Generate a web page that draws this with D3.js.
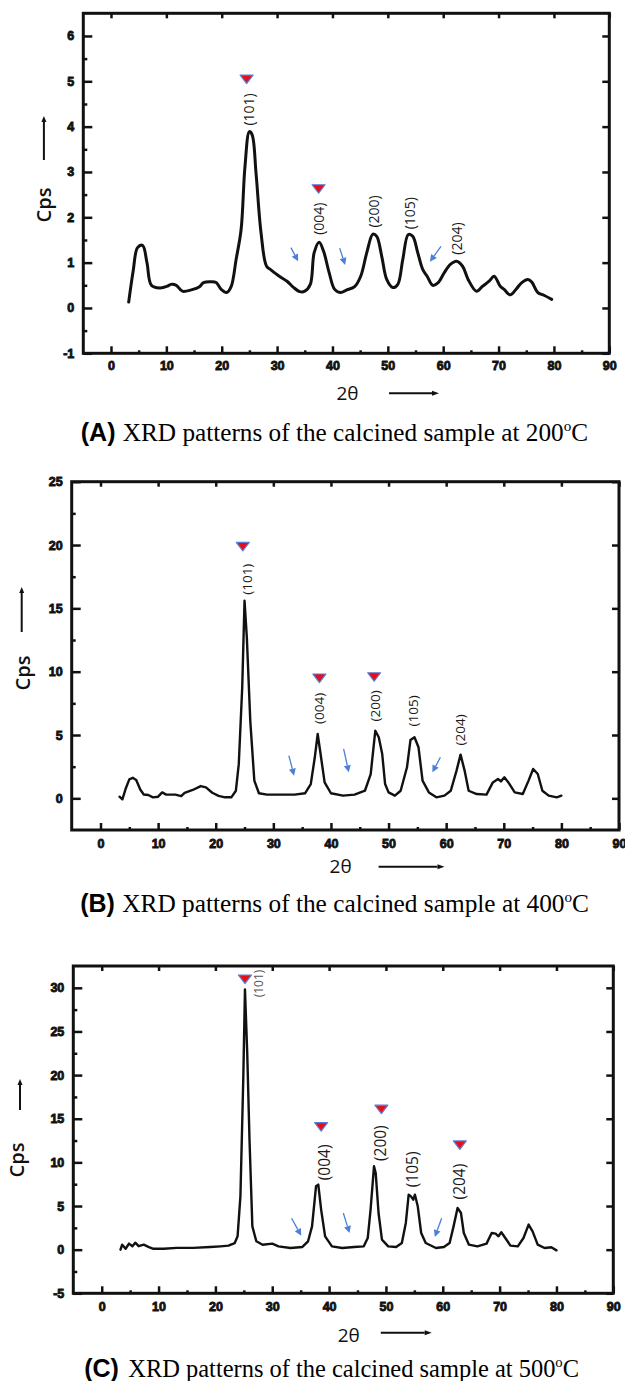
<!DOCTYPE html>
<html><head><meta charset="utf-8">
<script src="https://cdn.jsdelivr.net/npm/d3@7"></script>
<style>body{margin:0;background:#fff} svg{display:block}</style>
</head><body><svg id="chart" width="625" height="1381"></svg>
<script>
// ---------- DATA ----------
const xTicks = [0,10,20,30,40,50,60,70,80,90];
const xMinorTicks = [5,15,25,35,45,55,65,75,85];
const yTicksA = [-1,0,1,2,3,4,5,6];
const yMinorA = [-0.5,0.5,1.5,2.5,3.5,4.5,5.5];
const yTicksB = [0,5,10,15,20,25];
const yMinorB = [2.5,7.5,12.5,17.5,22.5];
const yTicksC = [-5,0,5,10,15,20,25,30];
const yMinorC = [-2.5,2.5,7.5,12.5,17.5,22.5,27.5];
const hkl = ["(101)","(004)","(200)","(105)","(204)"];

// Panel A – 200 °C
const thetaA = [3.2,4.0,4.8,5.7,6.5,7.3,8.8,10.2,10.8,11.8,12.9,14.5,16.0,16.7,18.1,19.0,19.9,20.9,21.7,22.6,23.5,24.2,25.0,25.5,26.2,27.1,28.1,28.9,30.4,31.8,32.9,34.1,35.0,36.0,36.7,37.6,38.4,39.4,40.4,41.5,42.6,44.0,45.1,46.2,47.3,48.0,48.9,49.8,50.9,51.8,52.7,53.7,54.5,55.4,56.3,57.1,58.1,59.1,60.2,61.3,62.4,63.5,64.5,66.0,67.1,68.3,69.2,70.3,71.0,72.1,73.2,74.2,75.3,76.0,77.1,78.2,79.6];
const cpsA = [0.13,0.81,1.33,1.38,1.0,0.5,0.44,0.48,0.52,0.5,0.37,0.4,0.47,0.56,0.58,0.56,0.41,0.34,0.47,1.07,1.73,3.12,3.89,3.82,2.97,1.66,0.92,0.84,0.7,0.59,0.46,0.36,0.37,0.52,1.22,1.45,1.25,0.78,0.41,0.34,0.4,0.47,0.7,1.22,1.63,1.58,1.14,0.63,0.45,0.52,1.07,1.62,1.58,1.22,0.85,0.7,0.5,0.56,0.78,0.96,1.03,0.92,0.63,0.37,0.48,0.59,0.7,0.48,0.41,0.29,0.42,0.56,0.63,0.57,0.34,0.28,0.19];
const markerXA = [24.5,37.5];
const markerYA = [5.05,2.63];
const labelXA = [24.9,37.5,47.5,54.0,62.4];
const labelYA = [4.38,1.97,2.13,2.09,1.53];
const arrowsA = [[32.5,1.33,33.8,1.03],[41.3,1.32,42.3,0.95],[59.6,1.36,57.6,1.02]];

// Panel B – 400 °C
const thetaB = [3.3,3.8,4.4,5.0,5.6,6.2,6.9,7.5,8.3,9.1,10.0,10.7,11.4,13.0,14.0,14.6,16.0,17.4,18.3,19.4,20.5,21.6,22.7,23.5,24.0,24.6,25.0,25.4,26.0,26.7,27.5,28.9,31.0,33.7,35.5,36.5,37.2,37.7,38.2,38.9,40.0,42.1,44.1,45.9,46.9,47.7,48.3,48.9,49.4,50.0,51.1,52.1,53.2,53.8,54.5,55.2,55.9,57.0,58.3,59.7,60.8,61.8,62.5,63.2,63.9,65.3,67.0,68.1,69.0,69.5,70.1,70.8,71.9,73.3,74.3,75.1,75.9,76.7,77.8,79.2,80.0];
const cpsB = [0.13,-0.08,0.8,1.5,1.62,1.45,0.7,0.3,0.26,0.08,0.13,0.47,0.29,0.29,0.18,0.44,0.66,0.97,0.87,0.44,0.2,0.08,0.08,0.6,2.7,8.77,15.6,12.7,6.1,1.4,0.4,0.29,0.29,0.29,0.4,1.13,3.24,5.08,3.5,1.26,0.4,0.21,0.29,0.6,1.92,5.34,4.82,3.5,1.13,0.47,0.21,0.6,2.45,4.6,4.82,4.03,1.4,0.47,0.08,0.21,0.6,2.19,3.45,2.19,0.6,0.34,0.29,1.26,1.53,1.34,1.66,1.26,0.47,0.34,1.4,2.32,1.92,0.6,0.21,0.08,0.21];
const markerXB = [24.7,38.0,47.5];
const markerYB = [19.9,9.5,9.6];
const labelXB = [25.4,37.9,47.6,54.2,62.5];
const labelYB = [17.3,7.1,7.3,6.9,5.4];
const arrowsB = [[32.7,3.37,33.6,1.79],[42.2,3.9,43.1,2.05],[59.0,3.24,57.6,2.05]];

// Panel C – 500 °C
const thetaC = [3.3,3.6,4.2,4.8,5.4,5.9,6.5,7.4,8.3,9.1,10.9,13.2,16.1,19.1,20.9,22.3,23.4,23.9,24.4,24.9,25.2,25.6,26.0,26.5,27.2,28.3,30.0,31.1,33.2,35.3,36.3,37.0,37.7,38.1,38.6,39.3,40.5,42.3,44.4,46.1,46.8,47.3,47.9,48.2,48.7,49.3,50.4,51.8,52.8,53.5,54.0,54.4,54.8,55.1,55.6,56.2,57.0,58.8,60.2,61.2,61.9,62.6,63.2,63.7,64.6,66.1,67.7,68.6,69.3,69.8,70.3,71.0,71.9,73.2,74.2,75.1,75.8,76.7,77.9,79.1,80.0];
const cpsC = [0,0.57,0.1,0.69,0.4,0.8,0.4,0.57,0.3,0.1,0.1,0.2,0.2,0.3,0.38,0.46,0.76,1.53,6.1,19.5,29.8,22.5,12.6,2.67,0.96,0.57,0.69,0.38,0.19,0.31,0.96,2.67,7.26,7.45,4.59,1.53,0.38,0.19,0.31,0.38,1.34,4.59,9.55,8.79,4.2,1.15,0.38,0.31,0.76,3.06,6.3,6.1,5.73,6.3,4.97,1.91,0.76,0.19,0.31,0.76,2.67,4.78,4.2,1.91,0.57,0.38,0.69,1.91,1.83,1.53,1.99,1.34,0.46,0.38,1.34,2.87,2.1,0.57,0.19,0.27,-0.08];
const markerXC = [25.2,38.6,49.2,63.0];
const markerYC = [31.0,14.1,16.1,12.0];
const labelXC = [27.6,39.1,49.0,54.6,63.0];
const labelYC = [30.5,10.0,12.2,9.2,7.8];
const arrowsC = [[33.4,3.6,35.1,1.6],[42.5,4.2,43.6,1.9],[59.8,3.6,58.6,1.45]];

const captionLetters = ["(A)","(B)","(C)"];
const captionTemps = ["200","400","500"];
const captionText = "XRD patterns of the calcined sample at ";

// ---------- DRAWING ----------
const svg = d3.select("#chart");
const xDomain = [-5, 90];
const INK = "#111";
const BLUE = "#4d7fd6";

function drawArrow(g, x1, y1, x2, y2, color, lw, hl, hw) {
  const a = Math.atan2(y2 - y1, x2 - x1);
  const bx = x2 - hl * Math.cos(a), by = y2 - hl * Math.sin(a);
  g.append("line").attr("x1", x1).attr("y1", y1).attr("x2", bx).attr("y2", by)
    .attr("stroke", color).attr("stroke-width", lw);
  const px = -Math.sin(a) * hw / 2, py = Math.cos(a) * hw / 2;
  g.append("path").attr("d", `M${x2},${y2}L${bx + px},${by + py}L${bx - px},${by - py}Z`).attr("fill", color);
}

function styleAxis(sel) {
  sel.select(".domain").remove();
  sel.selectAll(".tick line").attr("stroke", INK).attr("stroke-width", 2.5);
  sel.selectAll(".tick text")
    .attr("fill", INK).attr("stroke", INK).attr("stroke-width", 0.85)
    .style("font-family", "'Liberation Sans', Arial, sans-serif")
    .style("font-weight", "bold").style("font-size", "12.5px");
}

function drawPanel(p) {
  const x = d3.scaleLinear().domain(xDomain).range([p.left, p.right]);
  const y = d3.scaleLinear().domain(p.yDomain).range([p.bottom, p.top]);
  const g = svg.append("g");

  // data curve
  const pts = p.theta.map((t, i) => [t, p.cps[i]]);
  g.append("path").datum(pts)
    .attr("d", d3.line().x(d => x(d[0])).y(d => y(d[1])).curve(p.curve))
    .attr("fill", "none").attr("stroke", INK).attr("stroke-width", p.lw)
    .attr("stroke-linejoin", "round").attr("stroke-linecap", "round");

  // axes (ticks inward)
  styleAxis(g.append("g").attr("transform", `translate(0,${p.bottom})`)
    .call(d3.axisBottom(x).tickValues(xTicks).tickSizeInner(-7).tickSizeOuter(0)
      .tickPadding(p.xPad).tickFormat(d => String(d))));
  styleAxis(g.append("g").attr("transform", `translate(0,${p.bottom})`)
    .call(d3.axisBottom(x).tickValues(xMinorTicks).tickSizeInner(-3).tickSizeOuter(0).tickFormat("")));
  styleAxis(g.append("g").attr("transform", `translate(0,${p.top})`)
    .call(d3.axisTop(x).tickValues(xTicks).tickSizeInner(-5).tickSizeOuter(0).tickFormat("")));
  styleAxis(g.append("g").attr("transform", `translate(${p.left},0)`)
    .call(d3.axisLeft(y).tickValues(p.yTicks).tickSizeInner(-9).tickSizeOuter(0)
      .tickPadding(9).tickFormat(d => String(d))));
  styleAxis(g.append("g").attr("transform", `translate(${p.left},0)`)
    .call(d3.axisLeft(y).tickValues(p.yMinor).tickSizeInner(-4).tickSizeOuter(0).tickFormat("")));
  styleAxis(g.append("g").attr("transform", `translate(${p.right},0)`)
    .call(d3.axisRight(y).tickValues(p.yTicks).tickSizeInner(-7).tickSizeOuter(0).tickFormat("")));

  // frame
  g.append("rect").attr("x", p.left).attr("y", p.top)
    .attr("width", p.right - p.left).attr("height", p.bottom - p.top)
    .attr("fill", "none").attr("stroke", INK).attr("stroke-width", 3);

  // peak labels
  hkl.forEach((t, i) => {
    const small = p.smallFirst && i === 0;
    g.append("text")
      .attr("transform", `translate(${x(p.labelX[i])},${y(p.labelY[i])}) rotate(-90)`)
      .attr("text-anchor", "middle").attr("dy", "0.36em")
      .style("font-family", "'Open Sans', 'DejaVu Sans', sans-serif")
      .style("font-size", (small ? 12 : p.labelSize) + "px")
      .attr("fill", small ? "#555" : "#1a1a1a")
      .text(t);
  });

  // red triangle markers
  p.markerX.forEach((mx, i) => {
    g.append("path")
      .attr("transform", `translate(${x(mx)},${y(p.markerY[i])})`)
      .attr("d", "M-6.5,-4L6.5,-4L0,4.5Z")
      .attr("fill", "#e3101c").attr("stroke", "#5a7fd2").attr("stroke-width", 1.2)
      .attr("stroke-linejoin", "round");
  });

  // blue arrows
  p.arrows.forEach(a => drawArrow(g, x(a[0]), y(a[1]), x(a[2]), y(a[3]), BLUE, 1.3, 7, 7));

  // axis titles
  g.append("text")
    .attr("transform", `translate(${p.cps_.x},${p.cps_.y}) rotate(-90)`)
    .attr("text-anchor", "middle").attr("dy", "0.36em")
    .style("font-family", "'Open Sans', 'DejaVu Sans', sans-serif")
    .style("font-size", "20px").style("font-weight", "600").attr("fill", INK)
    .text("Cps");
  drawArrow(g, p.cps_.ax, p.cps_.y1, p.cps_.ax, p.cps_.y2, INK, 2, 6, 5);

  g.append("text").attr("x", p.th.x).attr("y", p.th.y).attr("text-anchor", "middle")
    .style("font-family", "'Open Sans', 'DejaVu Sans', sans-serif")
    .style("font-size", "19px").attr("fill", INK).text("2θ");
  drawArrow(g, p.th.x1, p.th.ay, p.th.x2, p.th.ay, INK, 2, 7, 5);

  // caption
  const c = p.cap;
  svg.append("text").attr("x", c.lx).attr("y", c.y)
    .style("font-family", "'Liberation Sans', Arial, sans-serif")
    .style("font-weight", "bold").style("font-size", "25px").attr("fill", "#000")
    .text(captionLetters[p.idx]);
  const t = svg.append("text")
    .style("font-family", "'Liberation Serif', 'Times New Roman', serif")
    .style("font-size", "25px").attr("fill", "#000");
  t.append("tspan").text(captionText + captionTemps[p.idx]);
  t.append("tspan").attr("dy", -10).style("font-size", "15px").text("o");
  t.append("tspan").attr("dy", 10).text("C");
  const w = t.node().getBBox().width;
  t.attr("transform", `translate(${c.tx},${c.y}) scale(${c.w / w},1)`);
}

drawPanel({
  idx: 0, left: 83.3, right: 609.3, top: 13.3, bottom: 353.3, yDomain: [-1, 6.5],
  yTicks: yTicksA, yMinor: yMinorA, xPad: 8,
  theta: thetaA, cps: cpsA, curve: d3.curveCatmullRom, lw: 3,
  markerX: markerXA, markerY: markerYA, labelX: labelXA, labelY: labelYA, labelSize: 14,
  arrows: arrowsA,
  cps_: {x: 43.9, y: 205, ax: 43.9, y1: 160, y2: 116},
  th: {x: 347.5, y: 400, x1: 389, x2: 439, ay: 393.3},
  cap: {y: 441, lx: 80.8, tx: 122.8, w: 465.6}
});
drawPanel({
  idx: 1, left: 71.7, right: 619, top: 481.7, bottom: 830, yDomain: [-2.5, 25],
  yTicks: yTicksB, yMinor: yMinorB, xPad: 9,
  theta: thetaB, cps: cpsB, curve: d3.curveLinear, lw: 2.4,
  markerX: markerXB, markerY: markerYB, labelX: labelXB, labelY: labelYB, labelSize: 13.5,
  arrows: arrowsB,
  cps_: {x: 22.9, y: 673, ax: 21.7, y1: 632, y2: 587},
  th: {x: 340.6, y: 873, x1: 378.6, x2: 444.5, ay: 866.7},
  cap: {y: 912, lx: 80.2, tx: 122.2, w: 467}
});
drawPanel({
  idx: 2, left: 73.3, right: 613.3, top: 966, bottom: 1293.3, yDomain: [-5, 32.5],
  yTicks: yTicksC, yMinor: yMinorC, xPad: 9,
  theta: thetaC, cps: cpsC, curve: d3.curveLinear, lw: 2.4,
  markerX: markerXC, markerY: markerYC, labelX: labelXC, labelY: labelYC, labelSize: 15.5,
  smallFirst: true,
  arrows: arrowsC,
  cps_: {x: 17, y: 1160, ax: 20, y1: 1110, y2: 1079},
  th: {x: 348.7, y: 1341.7, x1: 380.8, x2: 431.7, ay: 1332.7},
  cap: {y: 1377, lx: 84.2, tx: 128.3, w: 451}
});
</script></body></html>
